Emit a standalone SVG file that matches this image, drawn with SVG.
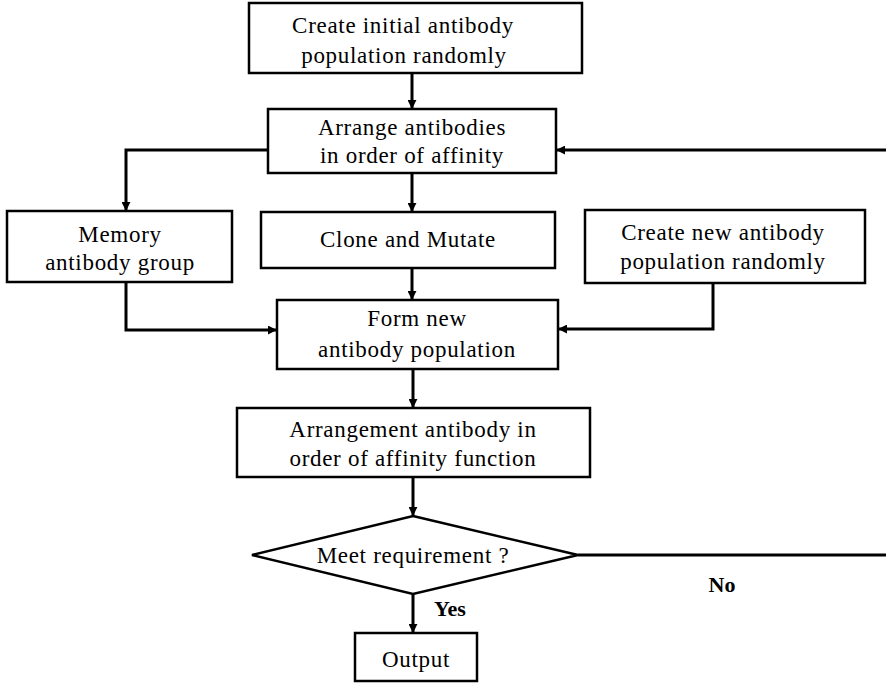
<svg xmlns="http://www.w3.org/2000/svg" width="886" height="683" viewBox="0 0 886 683">
  <style>
    .box { fill: #fff; stroke: #000; stroke-width: 2.5; }
    .lbl { font-family: "Liberation Serif", "Times New Roman", serif; font-size: 23px; letter-spacing: 0.7px; fill: #000; text-anchor: middle; }
    .tag { font-family: "Liberation Serif", "Times New Roman", serif; font-size: 22px; font-weight: bold; fill: #000; text-anchor: middle; }
    .wire { fill: none; stroke: #000; stroke-width: 3; }
  </style>
  <defs>
    <marker id="arr" viewBox="0 0 10 10" refX="9" refY="5" markerWidth="3" markerHeight="3" orient="auto" markerUnits="strokeWidth">
      <path d="M0,0 L10,5 L0,10 z" fill="#000"/>
    </marker>
  </defs>
  <rect width="886" height="683" fill="#fff"/>

  <g id="connectors">
    <path class="wire" d="M412,73 V108" marker-end="url(#arr)"/>
    <path class="wire" d="M268,150 H126 V210" marker-end="url(#arr)"/>
    <path class="wire" d="M412,173 V211" marker-end="url(#arr)"/>
    <path class="wire" d="M412,268 V299" marker-end="url(#arr)"/>
    <path class="wire" d="M126,282 V330 H276" marker-end="url(#arr)"/>
    <path class="wire" d="M713,283 V329 H559" marker-end="url(#arr)"/>
    <path class="wire" d="M413,369 V407" marker-end="url(#arr)"/>
    <path class="wire" d="M413,477 V515" marker-end="url(#arr)"/>
    <path class="wire" d="M413,594 V632" marker-end="url(#arr)"/>
    <path class="wire" d="M578,555 H886"/>
    <path class="wire" d="M886,150 H557" marker-end="url(#arr)"/>
    <text class="tag" x="450" y="616">Yes</text>
    <text class="tag" x="722" y="592">No</text>
  </g>

  <g id="create-initial">
    <rect class="box" x="249" y="3" width="333" height="70"/>
    <text class="lbl" x="403" y="33">Create initial antibody</text>
    <text class="lbl" x="404" y="63">population randomly</text>
  </g>

  <g id="arrange">
    <rect class="box" x="268" y="109" width="288" height="64"/>
    <text class="lbl" x="412" y="135">Arrange antibodies</text>
    <text class="lbl" x="412" y="163">in order of  affinity</text>
  </g>

  <g id="memory">
    <rect class="box" x="7" y="211" width="225" height="71"/>
    <text class="lbl" x="120" y="242">Memory</text>
    <text class="lbl" x="120" y="270">antibody group</text>
  </g>

  <g id="clone">
    <rect class="box" x="261" y="212" width="294" height="56"/>
    <text class="lbl" x="408" y="247">Clone and Mutate</text>
  </g>

  <g id="create-new">
    <rect class="box" x="585" y="210" width="280" height="73"/>
    <text class="lbl" x="723" y="240">Create new antibody</text>
    <text class="lbl" x="723" y="269">population randomly</text>
  </g>

  <g id="form">
    <rect class="box" x="277" y="300" width="281" height="69"/>
    <text class="lbl" x="417" y="326">Form new</text>
    <text class="lbl" x="417" y="357">antibody population</text>
  </g>

  <g id="arrangement">
    <rect class="box" x="237" y="408" width="353" height="69"/>
    <text class="lbl" x="413" y="437">Arrangement antibody in</text>
    <text class="lbl" x="413" y="466">order of  affinity function</text>
  </g>

  <g id="decision">
    <polygon class="box" points="413,516 578,555 413,594 252,555"/>
    <text class="lbl" x="413" y="563">Meet requirement ?</text>
  </g>

  <g id="output">
    <rect class="box" x="355" y="633" width="122" height="48"/>
    <text class="lbl" x="416" y="667">Output</text>
  </g>
</svg>
